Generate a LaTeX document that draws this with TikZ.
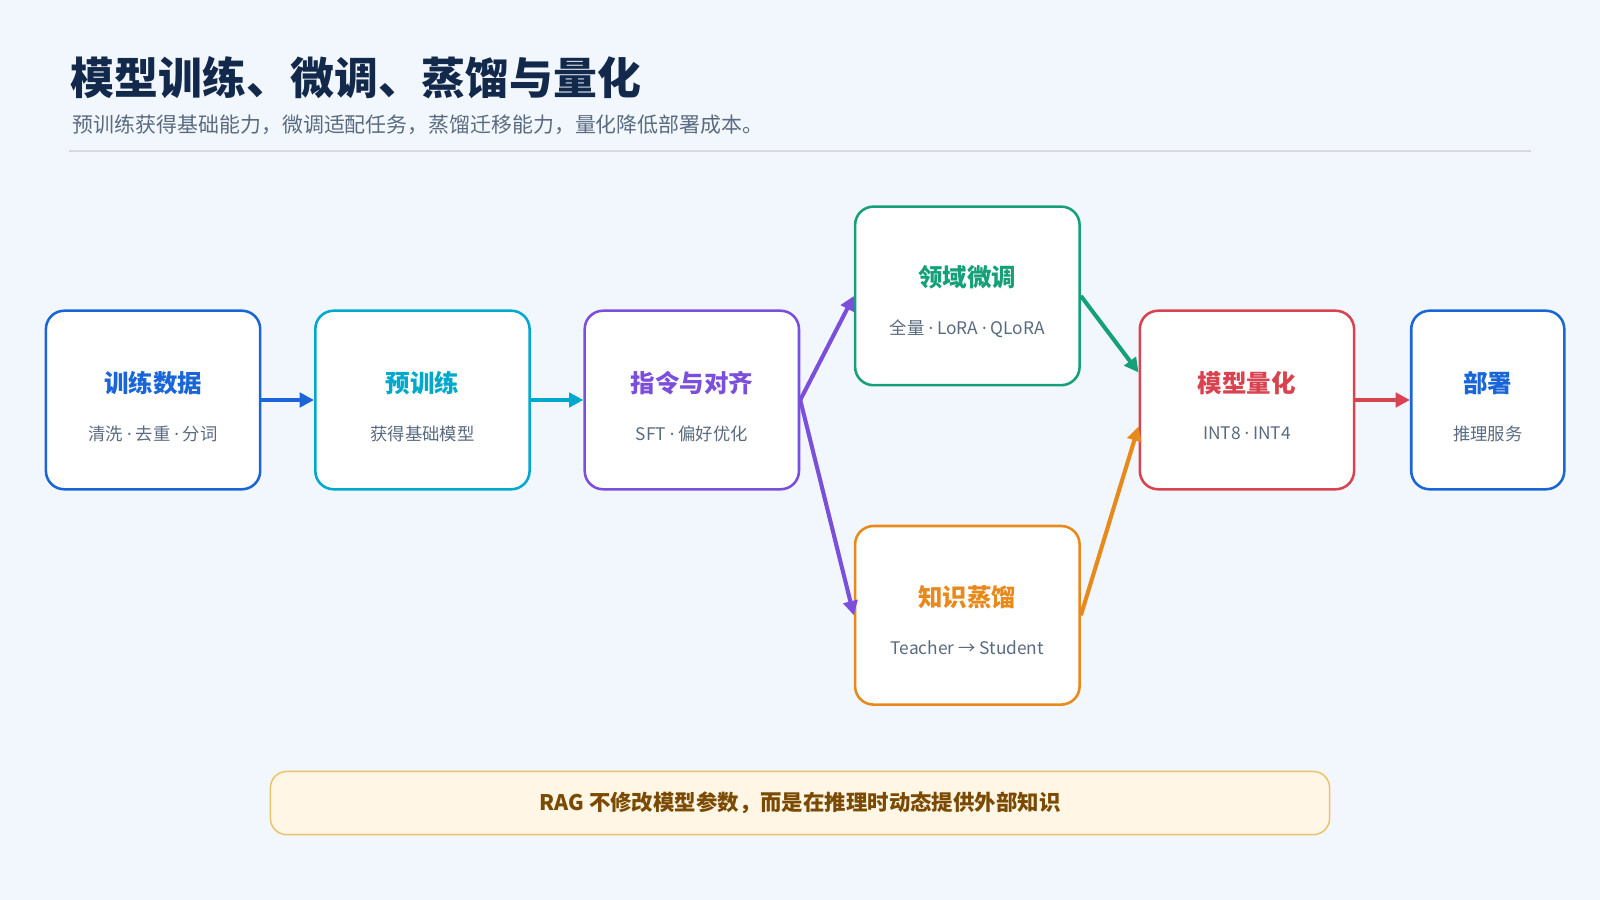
\documentclass[tikz,border=0pt]{standalone}
\usepackage{fontspec}
\setmainfont{Noto Sans CJK SC}
\newfontfamily\latinfont{Noto Sans}
\newcommand{\sepdot}{\ {\latinfont ·}\ }
\usetikzlibrary{arrows.meta}
\definecolor{bg}{HTML}{F2F7FD}
\definecolor{navy}{HTML}{13294B}
\definecolor{subg}{HTML}{5A6B80}
\definecolor{cblue}{HTML}{1A66D9}
\definecolor{ccyan}{HTML}{00A8CC}
\definecolor{cpurple}{HTML}{7B4FDB}
\definecolor{cgreen}{HTML}{16A07A}
\definecolor{corange}{HTML}{E8891C}
\definecolor{cred}{HTML}{D9434F}
\definecolor{cream}{HTML}{FFF6E6}
\definecolor{gold}{HTML}{EBC36E}
\definecolor{brown}{HTML}{7A4A00}
\tikzset{
  stage/.style={draw=#1,fill=white,line width=2.5pt,rounded corners=18pt,minimum width=210pt,minimum height=175pt},
  head/.style={text=#1,font=\fontsize{24}{28}\selectfont\bfseries},
  note/.style={text=subg,font=\fontsize{17}{20}\selectfont},
  flow/.style={draw=#1,line width=4pt,-{Triangle[length=14pt,width=14pt]}}
}
\begin{document}
\begin{tikzpicture}[x=1pt,y=-1pt]
\useasboundingbox[fill=bg] (0,0) rectangle (1568,882);

\node[anchor=west,text=navy,font=\fontsize{43}{48}\selectfont\bfseries] (title) at (66,76) {模型训练、微调、蒸馏与量化};
\node[anchor=west,text=subg,font=\fontsize{20.5}{24}\selectfont] (subtitle) at (68,122) {预训练获得基础能力，微调适配任务，蒸馏迁移能力，量化降低部署成本。};
\draw[draw=black!15,line width=1.5pt] (68,148) -- (1500,148);

% stages
\node[stage=cblue] (data) at (150,392) {};
\node[stage=ccyan] (pre) at (414,392) {};
\node[stage=cpurple] (align) at (678,392) {};
\node[stage=cgreen,minimum width=220pt] (ft) at (948,290) {};
\node[stage=corange,minimum width=220pt] (kd) at (948,603) {};
\node[stage=cred] (quant) at (1222,392) {};
\node[stage=cblue,minimum width=150pt] (deploy) at (1458,392) {};

\node[head=cblue] at (150,375) {训练数据};
\node[note] at (150,425) {清洗\sepdot 去重\sepdot 分词};
\node[head=ccyan] at (414,375) {预训练};
\node[note] at (414,425) {获得基础模型};
\node[head=cpurple] at (678,375) {指令与对齐};
\node[note] at (678,425) {SFT\sepdot 偏好优化};
\node[head=cgreen] at (948,272) {领域微调};
\node[note] at (948,322) {全量\sepdot LoRA\sepdot QLoRA};
\node[head=corange] at (948,585) {知识蒸馏};
\node[note] at (948,635) {Teacher → Student};
\node[head=cred] at (1222,375) {模型量化};
\node[note] at (1222,425) {INT8\sepdot INT4};
\node[head=cblue] at (1458,375) {部署};
\node[note] at (1458,425) {推理服务};

% arrows
\draw[flow=cblue] (data) -- (pre);
\draw[flow=ccyan] (pre) -- (align);
\draw[flow=cpurple] (align.east) -- (ft.west);
\draw[flow=cpurple] (align.east) -- (kd.west);
\draw[flow=cgreen] (ft.east) -- ([yshift=27pt]quant.west);
\draw[flow=corange] (kd.east) -- ([yshift=-26pt]quant.west);
\draw[flow=cred] (quant) -- (deploy);

\node[draw=gold,fill=cream,line width=1.5pt,rounded corners=16pt,minimum width=1038pt,minimum height=62pt,text=brown,font=\fontsize{21}{25}\selectfont\bfseries] (rag) at (784,787) {RAG 不修改模型参数，而是在推理时动态提供外部知识};
\end{tikzpicture}
\end{document}
